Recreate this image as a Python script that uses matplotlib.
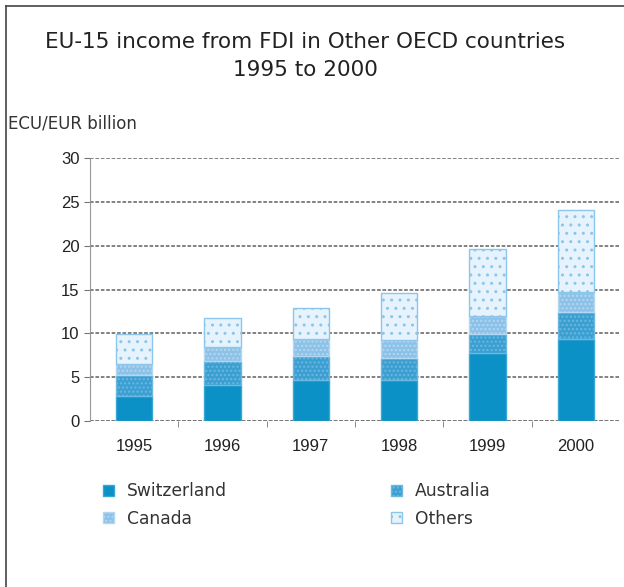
import numpy as np
import matplotlib
matplotlib.use("Agg")
import matplotlib.pyplot as plt
from matplotlib.lines import Line2D
from matplotlib.patches import Patch

years = ["1995", "1996", "1997", "1998", "1999", "2000"]
switzerland = [2.9, 4.1, 4.7, 4.7, 7.7, 9.3]
australia = [2.4, 2.7, 2.7, 2.5, 2.2, 3.1]
canada = [1.2, 1.6, 1.9, 2.0, 2.1, 2.3]
others = [3.4, 3.3, 3.6, 5.4, 7.6, 9.4]

series = [
    ("Switzerland", switzerland, "#0b91c6", "#3aa6d4", ""),
    ("Australia", australia, "#3c9fd2", "#6cb8e0", "...."),
    ("Canada", canada, "#8dc2e8", "#b3d7f0", "...."),
    ("Others", others, "#e7f3fc", "#8cc6ea", ".."),
]

fig = plt.figure(figsize=(6.24, 5.87), dpi=100)
ax = fig.add_axes([90 / 624, 1 - 421 / 587, 530 / 624, 263 / 587])

x = np.arange(len(years))
bottom = np.zeros(len(years))
for name, vals, fc, ec, hatch in series:
    ax.bar(x, vals, 0.41, bottom=bottom, color=fc, edgecolor=ec,
           linewidth=1.0, hatch=hatch, zorder=3)
    bottom += np.array(vals)

ax.set_xlim(-0.5, 5.5)
ax.set_ylim(0, 30)
ax.set_yticks(range(0, 31, 5))
ax.set_xticks(x)
ax.set_xticklabels(years, fontsize=12, family="Liberation Sans", color="#222222")
ax.tick_params(axis="y", labelsize=12, length=4, color="#777777", labelcolor="#222222")
for lab in ax.get_yticklabels():
    lab.set_family("Liberation Sans")
ax.tick_params(axis="x", length=0, pad=13)
ax.set_xticks(np.arange(0.5, 5.5, 1), minor=True)
ax.tick_params(axis="x", which="minor", length=4, color="#777777")

ax.grid(axis="y", color="#777777", linestyle=(0, (2, 1)), linewidth=1.3, zorder=0)
for s in ["top", "right", "bottom"]:
    ax.spines[s].set_visible(False)
ax.spines["left"].set_color("#999999")
ax.spines["left"].set_linestyle((0, (2, 1)))
ax.axhline(0, color="#777777", linestyle=(0, (2, 1)), linewidth=1.3, zorder=2)

fig.text(305 / 624, 1 - 42 / 587, "EU-15 income from FDI in Other OECD countries",
         ha="center", va="center", fontsize=15.5, color="#222222")
fig.text(305 / 624, 1 - 70 / 587, "1995 to 2000",
         ha="center", va="center", fontsize=15.5, color="#222222")
fig.text(8 / 624, 1 - 124 / 587, "ECU/EUR billion", ha="left", va="center",
         fontsize=12, color="#333333")

handles = [Patch(facecolor=fc, edgecolor=ec, hatch=h) for _, _, fc, ec, h in series]
labels = [s[0] for s in series]
order = [0, 2, 1, 3]
fig.legend([handles[i] for i in order], [labels[i] for i in order],
           ncol=2, loc="upper left", bbox_to_anchor=(88 / 624, 1 - 467 / 587),
           frameon=False, fontsize=12.3, handlelength=0.6, handleheight=0.6,
           columnspacing=9.6, labelspacing=0.55, handletextpad=0.8,
           labelcolor="#333333")

fig.add_artist(Line2D([6 / 624, 6 / 624], [0, 1 - 6 / 587], color="#444444", lw=1.2))
fig.add_artist(Line2D([6 / 624, 1], [1 - 6 / 587, 1 - 6 / 587], color="#444444", lw=1.2))

fig.savefig("out.png", dpi=100)
